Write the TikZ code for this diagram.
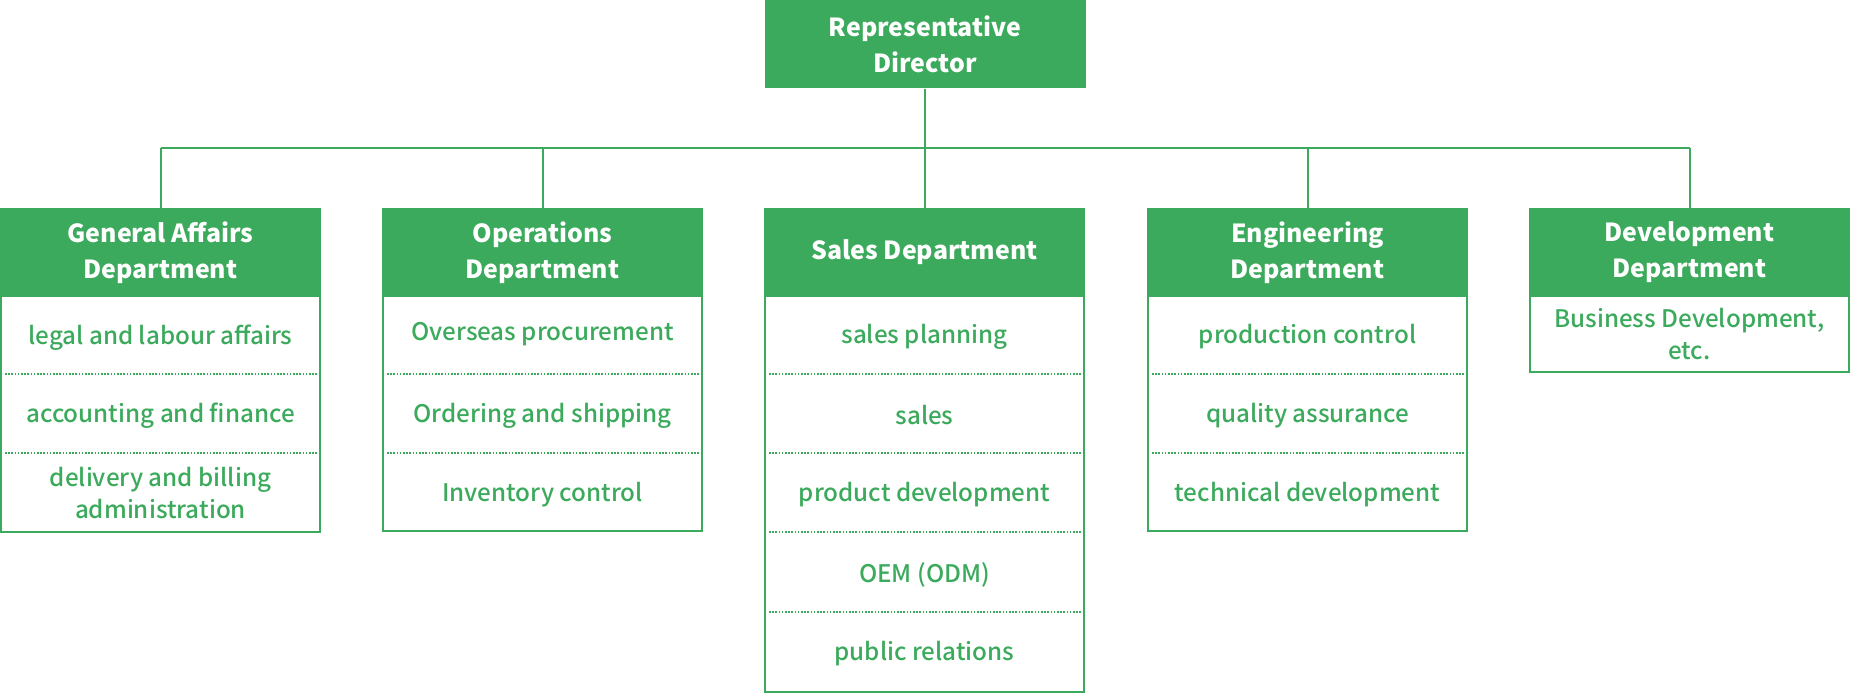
\documentclass[tikz,border=0pt]{standalone}
\usepackage{fontspec}
\setmainfont{Noto Sans CJK JP}
\newfontfamily\medfont{Noto Sans CJK JP Medium}
\definecolor{brand}{HTML}{3CAA5C}
\tikzset{
  head/.style={fill=brand, text=white, font=\bfseries\fontsize{12.45}{18}\selectfont, align=center,
    minimum width=160.5pt, minimum height=44pt, inner sep=0pt, anchor=north},
  item/.style={text=brand, font=\medfont\fontsize{12.1}{16}\selectfont, align=center, inner sep=0pt},
  link/.style={draw=brand, line width=1pt},
  frame/.style={draw=brand, line width=0.9pt},
  sepline/.style={draw=brand, line width=0.9pt, dash pattern=on 0.8pt off 0.8pt}
}
\begin{document}
\begin{tikzpicture}[x=0.5pt,y=-0.5pt]
\useasboundingbox (0,0) rectangle (1850,694);
% top
\node[head] (rd) at (925,0) {Representative\\Director};
% headers
\node[head] (h1) at (160.5,208) {General Affairs\\Department};
\node[head] (h2) at (542.5,208) {Operations\\Department};
\node[head] (h3) at (924.5,208) {Sales Department};
\node[head] (h4) at (1307.5,208) {Engineering\\Department};
\node[head] (h5) at (1689.5,208) {Development\\Department};
% bus
\coordinate (busL) at (160.5,148);
\coordinate (busR) at (1689.5,148);
\draw[link] (busL) -- (busR);
\draw[link] (rd.south) -- (rd.south |- busL);
\foreach \h in {h1,h2,h3,h4,h5}{\draw[link] (\h.north) -- (\h.north |- busL);}
% frames
\draw[frame] (0.9,296) rectangle (320.1,532.1);
\draw[frame] (382.9,296) rectangle (702.1,531.1);
\draw[frame] (764.9,296) rectangle (1084.1,692.1);
\draw[frame] (1147.9,296) rectangle (1467.1,531.1);
\draw[frame] (1529.9,296) rectangle (1849.1,372.1);
% separators
\foreach \l in {0,382,764,1147}{
  \draw[sepline] (\l+5,374) -- (\l+317,374);
  \draw[sepline] (\l+5,453) -- (\l+317,453);
}
\draw[sepline] (769,532) -- (1081,532);
\draw[sepline] (769,612) -- (1081,612);
% items: General Affairs
\node[item] (g1) at (160.5,337.5) {legal and labour affairs};
\node[item] (g2) at (160.5,416) {accounting and finance};
\node[item] (g3) at (160.5,493) {delivery and billing\\administration};
% Operations
\node[item] (o1) at (542.5,334.5) {Overseas procurement};
\node[item] (o2) at (542.5,416) {Ordering and shipping};
\node[item] (o3) at (542.5,495) {Inventory control};
% Sales
\node[item] (s1) at (924.5,337) {sales planning};
\node[item] (s2) at (924.5,415.5) {sales};
\node[item] (s3) at (924.5,495) {product development};
\node[item] (s4) at (924.5,574.5) {OEM (ODM)};
\node[item] (s5) at (924.5,654) {public relations};
% Engineering
\node[item] (e1) at (1307.5,337) {production control};
\node[item] (e2) at (1307.5,416) {quality assurance};
\node[item] (e3) at (1307.5,495) {technical development};
% Development
\node[item] (d1) at (1689.5,334) {Business Development,\\etc.};
\end{tikzpicture}
\end{document}
